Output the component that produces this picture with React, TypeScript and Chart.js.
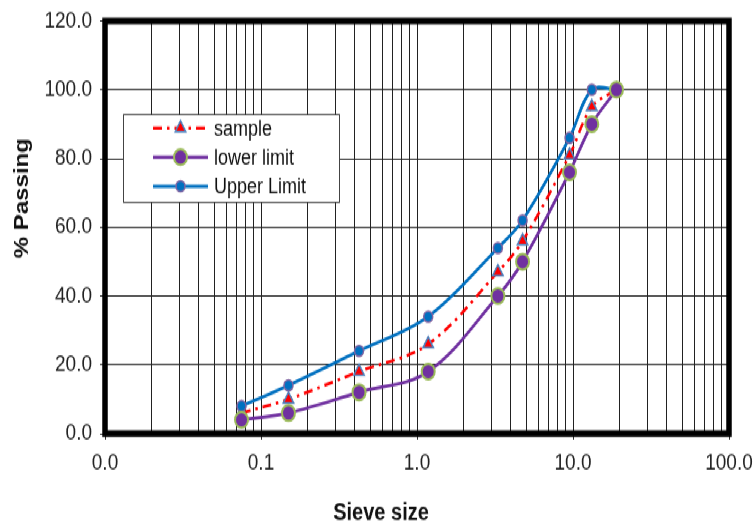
import React, { useEffect, useRef } from "react";
import { Chart, registerables } from "chart.js";

Chart.register(...registerables);

// ---- data ----
const SIEVE_SIZES = [0.075, 0.15, 0.425, 1.18, 3.3, 4.75, 9.5, 13.2, 19];
const SAMPLE = [6, 10, 18, 26, 47, 56, 81, 95, 100];
const LOWER_LIMIT = [4, 6, 12, 18, 40, 50, 76, 90, 100];
const UPPER_LIMIT = [8, 14, 24, 34, 54, 62, 86, 100, 100];
const SERIES_NAMES = ["sample", "lower limit", "Upper Limit"];

const X_GRID_VALUES = [
  0.01, 0.02, 0.03, 0.04, 0.05, 0.06, 0.07, 0.08, 0.09,
  0.1, 0.2, 0.3, 0.4, 0.5, 0.6, 0.7, 0.8, 0.9,
  1, 2, 3, 4, 5, 6, 7, 8, 9,
  10, 20, 30, 40, 50, 60, 70, 80, 90,
  100,
];
const X_MAJOR_TICKS = [0.01, 0.1, 1, 10, 100];
const X_TICK_LABELS = ["0.0", "0.1", "1.0", "10.0", "100.0"];
const Y_TICKS = [0, 20, 40, 60, 80, 100, 120];
const Y_TICK_LABELS = ["0.0", "20.0", "40.0", "60.0", "80.0", "100.0", "120.0"];
const X_TITLE = "Sieve size";
const Y_TITLE = "% Passing";

// ---- layout / style ----
const W = 756;
const H_INNER = 438;
const STRETCH = 526 / H_INNER;
const FONT = "'Liberation Sans', Arial, Helvetica, sans-serif";

const majorIndex = (v: number) =>
  X_MAJOR_TICKS.findIndex((m) => Math.abs(Math.log10(m) - Math.log10(v)) < 1e-6);

const STYLES = [
  {
    color: "#FF0000",
    width: 2.5,
    dash: [9, 5, 2.5, 5],
    point: "triangle",
    fill: "#FF0000",
    stroke: "#4F81BD",
    radius: 6,
    pbw: 1.5,
  },
  {
    color: "#7030A0",
    width: 2.75,
    dash: [] as number[],
    point: "circle",
    fill: "#7030A0",
    stroke: "#9BBB59",
    radius: 6.5,
    pbw: 2,
  },
  {
    color: "#0070C0",
    width: 2.75,
    dash: [] as number[],
    point: "circle",
    fill: "#0070C0",
    stroke: "#8064A2",
    radius: 4.5,
    pbw: 1.5,
  },
];

function drawMarker(ctx: CanvasRenderingContext2D, kind: string, x: number, y: number, r: number) {
  ctx.beginPath();
  if (kind === "triangle") {
    for (let k = 0; k < 3; k++) {
      const a = -Math.PI / 2 + (k * 2 * Math.PI) / 3;
      const px = x + r * Math.cos(a);
      const py = y + r * Math.sin(a);
      if (k === 0) ctx.moveTo(px, py);
      else ctx.lineTo(px, py);
    }
    ctx.closePath();
  } else {
    ctx.arc(x, y, r, 0, Math.PI * 2);
  }
  ctx.fill();
  ctx.stroke();
}

const overlayPlugin = {
  id: "overlay",
  afterDraw(chart: any) {
    const { ctx, chartArea: a } = chart;
    ctx.save();
    // frame
    ctx.strokeStyle = "#000";
    ctx.lineWidth = 5.5;
    ctx.lineJoin = "miter";
    ctx.strokeRect(a.left, a.top, a.right - a.left, a.bottom - a.top);

    // titles
    ctx.fillStyle = "#111";
    ctx.font = `bold 20px ${FONT}`;
    ctx.textAlign = "center";
    ctx.textBaseline = "middle";
    ctx.fillText(X_TITLE, 381, 427);
    ctx.save();
    ctx.translate(22, 165);
    ctx.rotate(-Math.PI / 2);
    ctx.fillText(Y_TITLE, 0, 0);
    ctx.restore();

    // legend
    const bx = 123, by = 95, bw = 216, bh = 73;
    ctx.fillStyle = "#fff";
    ctx.fillRect(bx, by, bw, bh);
    ctx.strokeStyle = "#444";
    ctx.lineWidth = 1;
    ctx.strokeRect(bx + 0.5, by + 0.5, bw, bh);
    const rows = [106.7, 130.8, 155];
    ctx.font = `18px ${FONT}`;
    ctx.textAlign = "left";
    ctx.textBaseline = "middle";
    SERIES_NAMES.forEach((name, i) => {
      const s = STYLES[i];
      const y = rows[i];
      ctx.save();
      ctx.strokeStyle = s.color;
      ctx.lineWidth = s.width;
      ctx.setLineDash(s.dash);
      ctx.beginPath();
      ctx.moveTo(153, y);
      ctx.lineTo(208, y);
      ctx.stroke();
      ctx.setLineDash([]);
      ctx.fillStyle = s.fill;
      ctx.strokeStyle = s.stroke;
      ctx.lineWidth = s.pbw;
      drawMarker(ctx, s.point, 180.5, y, s.radius);
      ctx.restore();
      ctx.fillStyle = "#111";
      ctx.fillText(name, 214, y + 1);
    });
    ctx.restore();
  },
};

export default function App() {
  const ref = useRef<HTMLCanvasElement>(null);

  useEffect(() => {
    document.body.style.margin = "0";
    const seriesValues = [SAMPLE, LOWER_LIMIT, UPPER_LIMIT];
    const orders = [2, 0, 1];
    const datasets = SERIES_NAMES.map((name, i) => {
      const s = STYLES[i];
      return {
        label: name,
        data: SIEVE_SIZES.map((x, j) => ({ x, y: seriesValues[i][j] })),
        borderColor: s.color,
        backgroundColor: s.fill,
        borderWidth: s.width,
        borderDash: s.dash,
        pointStyle: s.point,
        pointRadius: s.radius,
        pointBackgroundColor: s.fill,
        pointBorderColor: s.stroke,
        pointBorderWidth: s.pbw,
        tension: 0.35,
        fill: false,
        order: orders[i],
      };
    });

    const chart = new Chart(ref.current!, {
      type: "line",
      data: { datasets },
      options: {
        responsive: false,
        devicePixelRatio: 1,
        animation: false,
        layout: { padding: { top: 17.5, right: 27, left: 0, bottom: 0 } },
        plugins: {
          legend: { display: false },
          tooltip: { enabled: false },
        },
        scales: {
          x: {
            type: "logarithmic",
            min: 0.01,
            max: 100,
            afterBuildTicks: (scale: any) => {
              scale.ticks = X_GRID_VALUES.map((v) => ({ value: v, major: majorIndex(v) >= 0 }));
            },
            afterFit: (scale: any) => {
              scale.height = 77;
              scale.paddingLeft = 0;
              scale.paddingRight = 0;
            },
            ticks: {
              autoSkip: false,
              maxRotation: 0,
              minRotation: 0,
              padding: 8,
              color: "#222",
              font: { family: FONT, size: 19 },
              callback: (v: any) => {
                const k = majorIndex(Number(v));
                return k >= 0 ? X_TICK_LABELS[k] : "";
              },
            },
            grid: {
              color: "#222",
              lineWidth: 1,
              tickLength: 5,
              tickColor: (c: any) =>
                c.tick && majorIndex(c.tick.value) >= 0 ? "#333" : "rgba(0,0,0,0)",
            },
            border: { display: false },
          },
          y: {
            type: "linear",
            min: 0,
            max: 120,
            afterBuildTicks: (scale: any) => {
              scale.ticks = Y_TICKS.map((v) => ({ value: v }));
            },
            afterFit: (scale: any) => {
              scale.width = 105;
              scale.paddingTop = 0;
              scale.paddingBottom = 0;
            },
            ticks: {
              padding: 8,
              color: "#222",
              font: { family: FONT, size: 19 },
              callback: (v: any) => {
                const k = Y_TICKS.indexOf(Number(v));
                return k >= 0 ? Y_TICK_LABELS[k] : "";
              },
            },
            grid: { color: "#222", lineWidth: 1, tickLength: 5, tickColor: "#333" },
            border: { display: false },
          },
        },
      },
      plugins: [overlayPlugin],
    } as any);

    return () => chart.destroy();
  }, []);

  return (
    <div
      style={{
        position: "absolute",
        left: 0,
        top: 0,
        width: W,
        height: H_INNER,
        transform: `scaleY(${STRETCH})`,
        transformOrigin: "0 0",
        background: "#fff",
      }}
    >
      <canvas
        ref={ref}
        width={W}
        height={H_INNER}
        style={{ display: "block", width: `${W}px`, height: `${H_INNER}px` }}
      />
    </div>
  );
}
